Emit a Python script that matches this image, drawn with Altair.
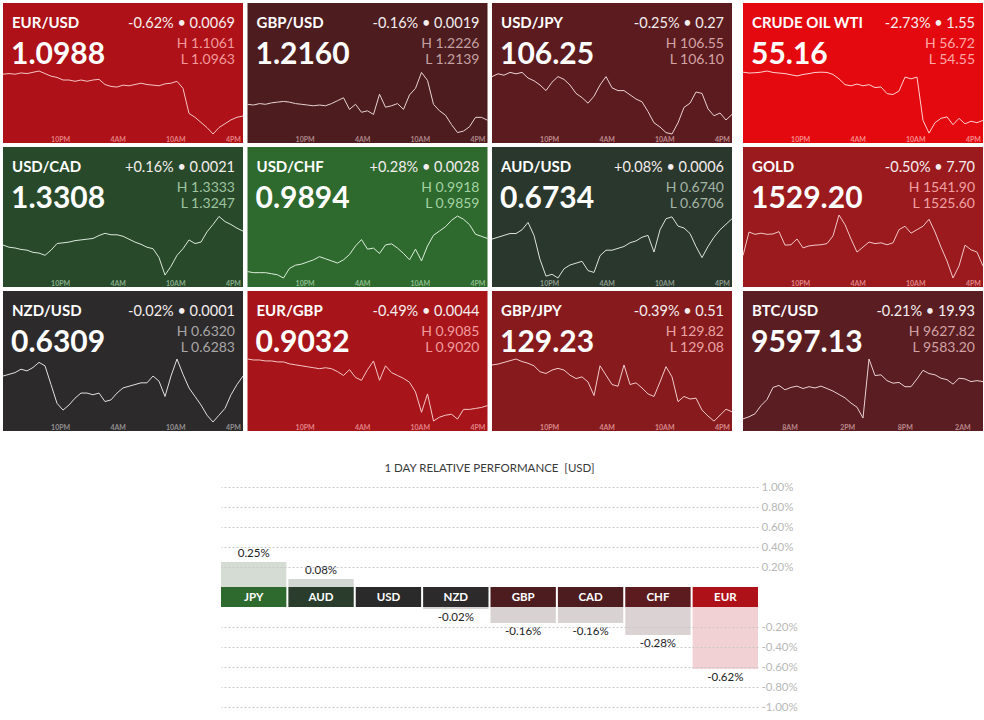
import altair as alt
import pandas as pd

# ---------------- data ----------------
symbols = ["EUR/USD", "GBP/USD", "USD/JPY", "CRUDE OIL WTI",
           "USD/CAD", "USD/CHF", "AUD/USD", "GOLD",
           "NZD/USD", "EUR/GBP", "GBP/JPY", "BTC/USD"]
last = ["1.0988", "1.2160", "106.25", "55.16",
        "1.3308", "0.9894", "0.6734", "1529.20",
        "0.6309", "0.9032", "129.23", "9597.13"]
chg_pct = ["-0.62%", "-0.16%", "-0.25%", "-2.73%",
           "+0.16%", "+0.28%", "+0.08%", "-0.50%",
           "-0.02%", "-0.49%", "-0.39%", "-0.21%"]
chg_abs = ["0.0069", "0.0019", "0.27", "1.55",
           "0.0021", "0.0028", "0.0006", "7.70",
           "0.0001", "0.0044", "0.51", "19.93"]
highs = ["1.1061", "1.2226", "106.55", "56.72",
         "1.3333", "0.9918", "0.6740", "1541.90",
         "0.6320", "0.9085", "129.82", "9627.82"]
lows = ["1.0963", "1.2139", "106.10", "54.55",
        "1.3247", "0.9859", "0.6706", "1525.60",
        "0.6283", "0.9020", "129.08", "9583.20"]

# sample times (hours from start of the 25h window)
hours = [i * 0.625 for i in range(41)]

eurusd = [1.1056, 1.1057, 1.1056, 1.1058, 1.1057, 1.1059, 1.1061, 1.1057, 1.1053, 1.1051,
          1.1047, 1.1047, 1.1045, 1.1047, 1.1045, 1.1047, 1.1048, 1.1040, 1.1037, 1.1036,
          1.1039, 1.1038, 1.1040, 1.1042, 1.1040, 1.1039, 1.1038, 1.1041, 1.1042, 1.1045,
          1.1034, 1.0995, 1.0989, 1.0981, 1.0973, 1.0963, 1.0973, 1.0979, 1.0985, 1.0989, 1.0991]
gbpusd = [1.2180, 1.2179, 1.2181, 1.2180, 1.2182, 1.2183, 1.2184, 1.2183, 1.2181, 1.2180,
          1.2179, 1.2178, 1.2179, 1.2178, 1.2181, 1.2185, 1.2189, 1.2173, 1.2180, 1.2169,
          1.2171, 1.2166, 1.2194, 1.2176, 1.2178, 1.2181, 1.2173, 1.2193, 1.2202, 1.2224,
          1.2213, 1.2180, 1.2171, 1.2165, 1.2152, 1.2141, 1.2143, 1.2149, 1.2162, 1.2162, 1.2158]
usdjpy = [106.51, 106.53, 106.52, 106.54, 106.53, 106.54, 106.50, 106.48, 106.45, 106.41,
          106.47, 106.51, 106.49, 106.45, 106.39, 106.36, 106.32, 106.37, 106.45, 106.51,
          106.43, 106.41, 106.41, 106.38, 106.35, 106.33, 106.26, 106.18, 106.15, 106.11,
          106.10, 106.18, 106.29, 106.32, 106.40, 106.39, 106.28, 106.23, 106.25, 106.20, 106.24]
crude = [56.68, 56.65, 56.66, 56.68, 56.72, 56.67, 56.65, 56.63, 56.59, 56.55,
         56.60, 56.63, 56.67, 56.68, 56.67, 56.60, 56.45, 56.25, 56.21, 56.27,
         56.21, 56.25, 56.15, 56.17, 55.94, 55.91, 56.03, 56.51, 56.45, 56.51,
         55.02, 54.58, 54.94, 55.09, 55.14, 54.87, 55.09, 54.90, 54.99, 54.94, 55.02]
usdcad = [1.3292, 1.3289, 1.3288, 1.3286, 1.3285, 1.3282, 1.3281, 1.3278, 1.3285, 1.3294,
          1.3295, 1.3296, 1.3298, 1.3299, 1.3300, 1.3301, 1.3305, 1.3308, 1.3306, 1.3306,
          1.3304, 1.3300, 1.3296, 1.3293, 1.3289, 1.3287, 1.3275, 1.3251, 1.3263, 1.3278,
          1.3287, 1.3299, 1.3294, 1.3296, 1.3310, 1.3320, 1.3331, 1.3324, 1.3320, 1.3315, 1.3311]
usdchf = [0.9865, 0.9864, 0.9864, 0.9864, 0.9863, 0.9862, 0.9859, 0.9868, 0.9871, 0.9872,
          0.9874, 0.9876, 0.9879, 0.9877, 0.9875, 0.9873, 0.9876, 0.9881, 0.9889, 0.9895,
          0.9886, 0.9887, 0.9882, 0.9890, 0.9891, 0.9887, 0.9882, 0.9876, 0.9886, 0.9875,
          0.9889, 0.9899, 0.9903, 0.9907, 0.9913, 0.9917, 0.9914, 0.9909, 0.9900, 0.9898, 0.9896]
audusd = [0.6727, 0.6728, 0.6729, 0.6730, 0.6730, 0.6732, 0.6736, 0.6729, 0.6716, 0.6707,
          0.6708, 0.6706, 0.6711, 0.6713, 0.6714, 0.6715, 0.6710, 0.6709, 0.6718, 0.6721,
          0.6721, 0.6722, 0.6723, 0.6725, 0.6726, 0.6728, 0.6729, 0.6720, 0.6732, 0.6738,
          0.6739, 0.6734, 0.6733, 0.6730, 0.6723, 0.6717, 0.6723, 0.6728, 0.6732, 0.6735, 0.6738]
gold = [1531.4, 1537.5, 1536.9, 1537.2, 1536.9, 1537.0, 1537.6, 1534.1, 1534.2, 1535.7,
        1533.4, 1533.9, 1534.1, 1534.2, 1534.5, 1536.5, 1541.9, 1539.4, 1535.7, 1532.3,
        1533.6, 1534.9, 1534.5, 1534.7, 1534.2, 1534.7, 1538.1, 1539.0, 1537.2, 1538.1,
        1539.0, 1540.8, 1537.5, 1533.6, 1530.0, 1525.6, 1528.7, 1534.1, 1532.9, 1532.3, 1528.7]
nzdusd = [0.6310, 0.6311, 0.6312, 0.6314, 0.6313, 0.6315, 0.6318, 0.6316, 0.6305, 0.6294,
          0.6290, 0.6293, 0.6297, 0.6300, 0.6300, 0.6299, 0.6300, 0.6295, 0.6296, 0.6300,
          0.6303, 0.6304, 0.6305, 0.6306, 0.6306, 0.6310, 0.6307, 0.6298, 0.6310, 0.6320,
          0.6311, 0.6303, 0.6298, 0.6293, 0.6287, 0.6283, 0.6287, 0.6291, 0.6299, 0.6305, 0.6310]
eurgbp = [0.9085, 0.9084, 0.9084, 0.9083, 0.9083, 0.9082, 0.9082, 0.9080, 0.9079, 0.9078,
          0.9077, 0.9076, 0.9075, 0.9076, 0.9075, 0.9072, 0.9068, 0.9074, 0.9066, 0.9063,
          0.9074, 0.9083, 0.9063, 0.9078, 0.9071, 0.9068, 0.9065, 0.9061, 0.9051, 0.9030,
          0.9049, 0.9021, 0.9025, 0.9027, 0.9028, 0.9023, 0.9033, 0.9033, 0.9034, 0.9035, 0.9037]
gbpjpy = [129.75, 129.76, 129.78, 129.80, 129.82, 129.79, 129.77, 129.74, 129.67, 129.65,
          129.69, 129.71, 129.69, 129.63, 129.59, 129.61, 129.55, 129.39, 129.74, 129.63,
          129.52, 129.50, 129.75, 129.52, 129.54, 129.48, 129.41, 129.38, 129.55, 129.73,
          129.61, 129.32, 129.38, 129.35, 129.36, 129.22, 129.15, 129.09, 129.16, 129.23, 129.20]
btcusd = [9585.4, 9586.9, 9589.0, 9594.8, 9599.1, 9607.7, 9609.1, 9606.0, 9607.7, 9608.6,
          9606.9, 9608.2, 9607.3, 9608.6, 9606.9, 9605.1, 9602.7, 9600.3, 9596.6, 9593.7,
          9586.0, 9627.8, 9616.1, 9616.6, 9612.5, 9610.7, 9611.2, 9608.2, 9608.2, 9613.7,
          9619.8, 9617.5, 9616.6, 9614.2, 9613.2, 9610.0, 9614.2, 9613.7, 9611.8, 9612.5, 9611.8]
series = [eurusd, gbpusd, usdjpy, crude, usdcad, usdchf, audusd, gold,
          nzdusd, eurgbp, gbpjpy, btcusd]

fx_tick_hours = [6, 12, 18, 24]
fx_tick_labels = ["10PM", "4AM", "10AM", "4PM"]
btc_tick_hours = [4.9, 10.9, 16.9, 22.9]
btc_tick_labels = ["8AM", "2PM", "8PM", "2AM"]

currencies = ["JPY", "AUD", "USD", "NZD", "GBP", "CAD", "CHF", "EUR"]
perf = [0.25, 0.08, 0.0, -0.02, -0.16, -0.16, -0.28, -0.62]
perf_ticks_pos = [0.2, 0.4, 0.6, 0.8, 1.0]
perf_ticks_neg = [-0.2, -0.4, -0.6, -0.8, -1.0]

# ---------------- styles ----------------
tile_bg = ["#ae1117", "#4d1c1f", "#5b1b1f", "#e3090f",
           "#284a2b", "#2e692e", "#2a372c", "#9a1a1e",
           "#2d2a2b", "#a7151a", "#861a1d", "#591d22"]
tile_accent = ["#f29a9c", "#c4a1a2", "#d4a3a5", "#ffa8a8",
               "#9fc4a0", "#a3d3a3", "#a4b4a6", "#f0a1a3",
               "#a9a7a7", "#f09c9e", "#eaa3a4", "#d2a2a5"]
tile_line = ["#f5c4c4", "#e8d4d4", "#ecd3d3", "#ffd0d0",
             "#d9e8d9", "#dcefdc", "#dce3dc", "#f3c8c8",
             "#e0e0e0", "#f5c6c6", "#f2cbcb", "#ead2d3"]
band_colors = ["#2e6a2e", "#2a3d2d", "#2b2a2a", "#2d2a2b",
               "#4d1c1f", "#4d1c1f", "#5b1b1f", "#ae1117"]
bar_colors = ["#d4dcd3", "#d3d7d3", "#d6d4d4", "#d6d4d4",
              "#d9d2d2", "#d9d2d2", "#dbd2d3", "#f1d1d3"]

FONT = "Lato"
TW, TH = 240, 140
NOVIEW = alt.ViewBackground(stroke="transparent", strokeWidth=0)


def tile(i):
    df = pd.DataFrame({"t": hours, "v": series[i]})
    lo, hi = float(lows[i]), float(highs[i])
    xenc = alt.X("t:Q", scale=alt.Scale(domain=[0, 25], nice=False, zero=False), axis=None)
    line = alt.Chart(df).mark_line(color=tile_line[i], strokeWidth=1.0, strokeJoin="round").encode(
        x=xenc,
        y=alt.Y("v:Q", scale=alt.Scale(domain=[lo, hi], range=[131, 68], zero=False, nice=False), axis=None),
    )
    if symbols[i] == "BTC/USD":
        th, tl = btc_tick_hours, btc_tick_labels
    else:
        th, tl = fx_tick_hours, fx_tick_labels
    tdf = pd.DataFrame({"t": th, "lab": tl})
    ticks = alt.Chart(tdf).mark_text(font=FONT, fontSize=7, fontWeight="bold", color=tile_accent[i],
                                     opacity=0.8, align="center", baseline="alphabetic").encode(
        x=xenc, y=alt.value(138.5), text="lab:N")
    info = pd.DataFrame([{
        "sym": symbols[i], "last": last[i],
        "chg": f"{chg_pct[i]} \u2022 {chg_abs[i]}",
        "hi": "H " + highs[i], "lo": "L " + lows[i],
    }])

    def txt(field, xv, yv, size, weight, color, align):
        return alt.Chart(info).mark_text(font=FONT, fontSize=size, fontWeight=weight, color=color,
                                         align=align, baseline="alphabetic").encode(
            x=alt.value(xv), y=alt.value(yv), text=f"{field}:N")

    layers = [
        line, ticks,
        txt("sym", 9, 24.5, 15, "bold", "#ffffff", "left"),
        txt("last", 8, 61, 30, "bold", "#ffffff", "left"),
        txt("chg", TW - 8, 24.5, 14.5, "normal", "#f4eeee", "right"),
        txt("hi", TW - 8, 44.5, 14, "normal", tile_accent[i], "right"),
        txt("lo", TW - 8, 61, 14, "normal", tile_accent[i], "right"),
    ]
    return alt.layer(*layers).properties(
        width=TW, height=TH, view=alt.ViewBackground(fill=tile_bg[i], stroke="transparent", strokeWidth=0)
    )


def col(k):
    return alt.vconcat(tile(k), tile(k + 4), tile(k + 8), spacing=4).resolve_scale(
        x="independent", y="independent")


left3 = alt.hconcat(col(0), col(1), col(2), spacing=2.5).resolve_scale(x="independent", y="independent")
top = alt.hconcat(left3, col(3), spacing=9).resolve_scale(x="independent", y="independent")

# ---------------- bottom: relative performance ----------------
perf_df = pd.DataFrame({
    "cur": currencies, "v": perf,
    "lab": [f"{v:.2f}%" for v in perf],
})
BW = 537
xb = alt.X("cur:N", sort=currencies,
           scale=alt.Scale(domain=currencies, paddingInner=0.03, paddingOuter=0), axis=None)
bar_color = alt.Color("cur:N", scale=alt.Scale(domain=currencies, range=bar_colors), legend=None)


def perf_axis(vals, expr):
    return alt.Axis(orient="right", values=vals, tickCount=20, grid=True, gridDash=[2, 2],
                    gridColor="#c8c8c8", gridWidth=1, domain=False, ticks=False, labelExpr=expr,
                    labelColor="#b8b8b8", labelFontSize=11.5, labelFont=FONT, labelPadding=3,
                    labelOverlap=False, labelBaseline="middle", title=None, zindex=1)


pos_bars = alt.Chart(perf_df).transform_filter("datum.v > 0").mark_bar().encode(
    x=xb,
    y=alt.Y("v:Q", scale=alt.Scale(domain=[0, 1], nice=False),
            axis=perf_axis(perf_ticks_pos, "format(datum.value, '.2f') + '%'")),
    color=bar_color,
)
pos_text = alt.Chart(perf_df).transform_filter("datum.v > 0").mark_text(
    font=FONT, fontSize=11.5, color="#222222", baseline="bottom", dy=-3).encode(
    x=xb, y="v:Q", text="lab:N")
pos = alt.layer(pos_bars, pos_text).properties(
    width=BW, height=100, view=NOVIEW,
    title=alt.TitleParams("1 DAY RELATIVE PERFORMANCE \u00a0[USD]", font=FONT, fontSize=11.5,
                          fontWeight="normal", color="#3a3a3a", anchor="middle",
                          frame="group", offset=7),
)

band_rect = alt.Chart(perf_df).mark_rect().encode(
    x=xb, y=alt.value(0), y2=alt.value(20),
    color=alt.Color("cur:N", scale=alt.Scale(domain=currencies, range=band_colors), legend=None),
)
band_text = alt.Chart(perf_df).mark_text(font=FONT, fontSize=11.5, fontWeight="bold", color="#ffffff",
                                         baseline="middle").encode(
    x=xb, y=alt.value(10.5), text="cur:N")
band = alt.layer(band_rect, band_text).properties(width=BW, height=20, view=NOVIEW)

neg_bars = alt.Chart(perf_df).transform_filter("datum.v < 0").mark_bar().encode(
    x=xb,
    y=alt.Y("v:Q", scale=alt.Scale(domain=[-1, 0], nice=False),
            axis=perf_axis(perf_ticks_neg, "'-' + format(abs(datum.value), '.2f') + '%'")),
    color=bar_color,
)
neg_text = alt.Chart(perf_df).transform_filter("datum.v < 0").mark_text(
    font=FONT, fontSize=11.5, color="#222222", baseline="top", dy=3).encode(
    x=xb, y="v:Q", text="lab:N")
neg = alt.layer(neg_bars, neg_text).properties(width=BW, height=100, view=NOVIEW)

bottom = alt.vconcat(pos, band, neg, spacing=0).resolve_scale(color="independent", y="independent")

spacer = alt.Chart(pd.DataFrame({"a": [0]})).mark_text(text="").encode(
    x=alt.value(0), y=alt.value(0)).properties(width=218, height=10, view=NOVIEW)
bottom_row = alt.hconcat(spacer, bottom, spacing=0).resolve_scale(
    x="independent", y="independent", color="independent")

chart = alt.vconcat(top, bottom_row, spacing=31).resolve_scale(
    x="independent", y="independent", color="independent"
).properties(
    padding={"left": 2, "top": 3, "right": 0, "bottom": 0}, background="#ffffff"
).configure_view(strokeWidth=0, stroke="transparent").configure(font=FONT)

chart.save("out.html", embed_options={"renderer": "svg", "actions": False})
